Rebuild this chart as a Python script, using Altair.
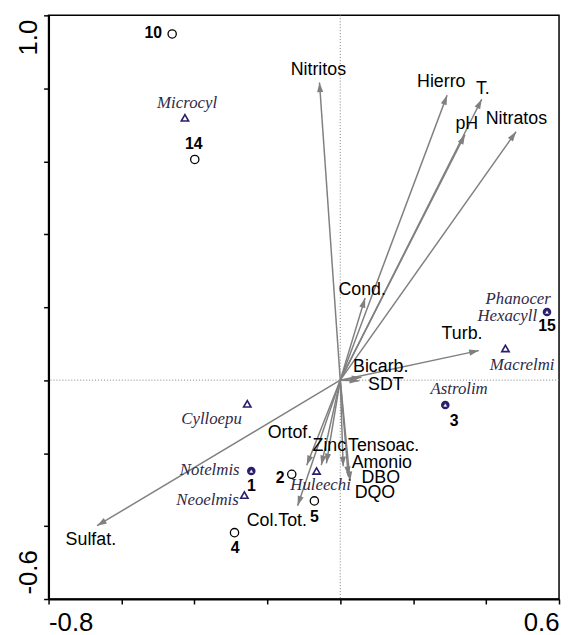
import math
import numpy as np
import pandas as pd
import altair as alt

# ---------------- data ----------------
env_names = ["Nitritos", "Hierro", "T.", "pH", "Nitratos", "Cond.", "Turb.",
             "Bicarb.", "SDT", "Ortof.", "Zinc", "Tensoac.", "Amonio", "DBO",
             "DQO", "Col.Tot.", "Sulfat."]
env_x = [-0.057, 0.293, 0.388, 0.342, 0.482, 0.068, 0.380,
         0.058, 0.052, -0.092, -0.052, -0.038, 0.008, 0.022,
         0.027, -0.117, -0.667]
env_y = [0.816, 0.781, 0.770, 0.673, 0.681, 0.225, 0.081,
         0.008, -0.002, -0.233, -0.233, -0.228, -0.236, -0.263,
         -0.277, -0.344, -0.399]
env_label_x = [-0.060, 0.277, 0.391, 0.347, 0.483, 0.060, 0.334,
               0.111, 0.125, -0.138, -0.030, 0.119, 0.114, 0.111,
               0.095, -0.174, -0.684]
env_label_y = [0.849, 0.816, 0.797, 0.702, 0.716, 0.247, 0.125,
               0.035, -0.014, -0.146, -0.182, -0.182, -0.228, -0.268,
               -0.309, -0.385, -0.439]

site_names = ["10", "14", "1", "2", "4", "5", "3", "15"]
site_x = [-0.461, -0.399, -0.244, -0.133, -0.290, -0.071, 0.288, 0.567]
site_y = [0.949, 0.605, -0.249, -0.258, -0.418, -0.331, -0.068, 0.187]
site_label_x = [-0.513, -0.402, -0.244, -0.165, -0.288, -0.071, 0.312, 0.567]
site_label_y = [0.952, 0.646, -0.290, -0.268, -0.461, -0.374, -0.111, 0.149]

spec_names = ["Microcyl", "Cylloepu", "Notelmis", "Neoelmis", "Huleechi",
              "Astrolim", "Macrelmi", "Phanocer", "Hexacyll"]
spec_x = [-0.426, -0.255, -0.244, -0.263, -0.065, 0.288, 0.453, 0.567, 0.567]
spec_y = [0.719, -0.065, -0.249, -0.315, -0.249, -0.068, 0.087, 0.187, 0.187]
spec_label_x = [-0.420, -0.353, -0.358, -0.364, -0.054, 0.326, 0.499, 0.488, 0.458]
spec_label_y = [0.759, -0.108, -0.247, -0.328, -0.287, -0.024, 0.041, 0.222, 0.176]

x_ticks = [-0.8, -0.6, -0.4, -0.2, 0.0, 0.2, 0.4, 0.6]
y_ticks = [-0.6, -0.4, -0.2, 0.0, 0.2, 0.4, 0.6, 0.8, 1.0]
x_end_labels = ["-0.8", "0.6"]
y_end_labels = ["-0.6", "1.0"]

# ---------------- tables ----------------
env = pd.DataFrame({"name": env_names, "x": env_x, "y": env_y,
                    "lx": env_label_x, "ly": env_label_y})
env["x0"] = 0.0
env["y0"] = 0.0
env["ang"] = (np.degrees(np.arctan2(env["x"], env["y"])) + 360.0) % 360.0

sites = pd.DataFrame({"name": site_names, "x": site_x, "y": site_y,
                      "lx": site_label_x, "ly": site_label_y})
spec = pd.DataFrame({"name": spec_names, "x": spec_x, "y": spec_y,
                     "lx": spec_label_x, "ly": spec_label_y})


def near(ax, ay, bx, by):
    return any(abs(ax - u) < 0.01 and abs(ay - v) < 0.01 for u, v in zip(bx, by))


sites["shared"] = [near(a, b, spec_x, spec_y) for a, b in zip(site_x, site_y)]
spec["shared"] = [near(a, b, site_x, site_y) for a, b in zip(spec_x, spec_y)]

origin = pd.DataFrame({"v": [0.0]})

# ---------------- scales / axes ----------------
xscale = alt.Scale(domain=[x_ticks[0], x_ticks[-1]], nice=False, zero=False)
yscale = alt.Scale(domain=[y_ticks[0], y_ticks[-1]], nice=False, zero=False)

x_expr = (f"datum.value < {x_ticks[0] + 0.01} ? '{x_end_labels[0]}' : "
          f"(datum.value > {x_ticks[-1] - 0.01} ? '{x_end_labels[1]}' : '')")
y_expr = (f"datum.value < {y_ticks[0] + 0.01} ? '{y_end_labels[0]}' : "
          f"(datum.value > {y_ticks[-1] - 0.01} ? '{y_end_labels[1]}' : '')")

FONT = "Liberation Sans, Arial, sans-serif"

xaxis = alt.Axis(values=x_ticks, labelExpr=x_expr, title=None, grid=False,
                 tickSize=5, tickWidth=1.5, tickColor="black",
                 domainColor="black", domainWidth=2,
                 labelFont=FONT, labelFontSize=26, labelColor="black",
                 labelPadding=6, labelFlush=True, labelOverlap=False,
                 labelBaseline="top")
yaxis = alt.Axis(values=y_ticks, labelExpr=y_expr, title=None, grid=False,
                 tickSize=5, tickWidth=1.5, tickColor="black",
                 domainColor="black", domainWidth=2,
                 labelFont=FONT, labelFontSize=26, labelColor="black",
                 labelAngle=270, labelPadding=7, labelFlush=False,
                 labelOverlap=False, labelBaseline="alphabetic",
                 labelAlign={"condition": {"test": "datum.value > 0", "value": "right"},
                             "value": "left"},
                 labelOffset={"condition": {"test": "datum.value > 0", "value": 4},
                              "value": -5})


def X(f):
    return alt.X(f, type="quantitative", scale=xscale, axis=xaxis)


def Y(f):
    return alt.Y(f, type="quantitative", scale=yscale, axis=yaxis)


GRAY = "#808080"
NAVY = "#2b1d6b"

vline = alt.Chart(origin).mark_rule(color=GRAY, strokeWidth=1, strokeDash=[1, 2]).encode(x=X("v"))
hline = alt.Chart(origin).mark_rule(color=GRAY, strokeWidth=1, strokeDash=[1, 2]).encode(y=Y("v"))

arrows = alt.Chart(env).mark_rule(color=GRAY, strokeWidth=1.5).encode(
    x=X("x0"), y=Y("y0"), x2="x", y2="y")
heads = alt.Chart(env).mark_point(
    shape="M0,0L-0.32,1L0.32,1Z", filled=True, color=GRAY, opacity=1, size=380
).encode(x=X("x"), y=Y("y"), angle=alt.Angle("ang:Q", scale=None))

circles = alt.Chart(sites).transform_filter("!datum.shared").mark_point(
    shape="circle", size=70, strokeWidth=1.3, color="black", filled=False, opacity=1
).encode(x=X("x"), y=Y("y"))
circles_shared = alt.Chart(sites).transform_filter("datum.shared").mark_point(
    shape="circle", size=75, color=NAVY, filled=True, opacity=1
).encode(x=X("x"), y=Y("y"))

tri = alt.Chart(spec).transform_filter("!datum.shared").mark_point(
    shape="triangle-up", size=55, strokeWidth=1.6, color=NAVY, filled=False, opacity=1
).encode(x=X("x"), y=Y("y"))
tri_shared = alt.Chart(spec).transform_filter("datum.shared").mark_point(
    shape="triangle-up", size=24, fill="white", stroke=NAVY, strokeWidth=0.8,
    filled=True, opacity=1
).encode(x=X("x"), y=Y("y"))

env_text = alt.Chart(env).mark_text(
    font=FONT, fontSize=18, color="black", align="center", baseline="middle"
).encode(x=X("lx"), y=Y("ly"), text="name:N")
site_text = alt.Chart(sites).mark_text(
    font=FONT, fontSize=16, fontWeight="bold", color="black",
    align="center", baseline="middle"
).encode(x=X("lx"), y=Y("ly"), text="name:N")
spec_text = alt.Chart(spec).mark_text(
    font="Liberation Serif, Times New Roman, serif", fontSize=17, fontStyle="italic",
    color="#2f2a48", align="center", baseline="middle"
).encode(x=X("lx"), y=Y("ly"), text="name:N")

chart = alt.layer(
    vline, hline, arrows, heads, circles, circles_shared, tri, tri_shared,
    env_text, site_text, spec_text
).properties(
    width=516, height=590,
    autosize=alt.AutoSizeParams(type="none"),
    padding={"left": 41, "top": 4, "right": 3, "bottom": 40},
    background="white"
).configure_view(stroke="black", strokeWidth=1.5)

chart.save("out.html", embed_options={"renderer": "svg", "actions": False})
